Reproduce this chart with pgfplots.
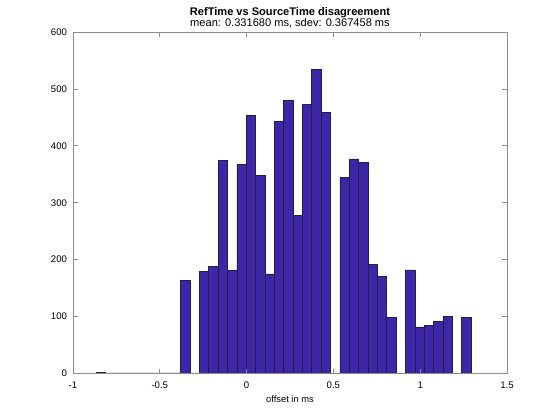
\documentclass[border=0pt]{standalone}
\usepackage{fontspec}
\setmainfont{Liberation Sans}
\usepackage{pgfplots}
\pgfplotsset{compat=1.18}
\usepackage{pgfplotstable}

\definecolor{barfill}{RGB}{62,38,168}
\definecolor{baredge}{RGB}{38,28,70}
\definecolor{axgray}{RGB}{140,140,140}

% left bin edge, count (last row closes the interval)
\pgfplotstableread{
edge cnt
-0.8660 2
-0.8120 1
-0.7581 1
-0.7041 1
-0.6501 1
-0.5962 1
-0.5422 1
-0.4882 1
-0.4342 1
-0.3803 163
-0.3263 0
-0.2723 180
-0.2184 188
-0.1644 375
-0.1104 181
-0.0565 367
-0.0025 453
0.0515 348
0.1055 175
0.1594 443
0.2134 480
0.2674 278
0.3213 473
0.3753 534
0.4293 459
0.4833 0
0.5372 344
0.5912 377
0.6452 371
0.6991 192
0.7531 170
0.8071 99
0.8610 0
0.9150 182
0.9690 82
1.0230 85
1.0769 92
1.1309 100
1.1849 0
1.2388 99
1.2928 99
}\histdata

\begin{document}
\begin{tikzpicture}
\begin{axis}[
  at={(54.75pt,34.9pt)}, anchor=south west,
  scale only axis, width=325.5pt, height=256.1pt,
  xmin=-1, xmax=1.5, ymin=0, ymax=600,
  xtick={-1,-0.5,0,0.5,1,1.5},
  ytick={0,100,...,600},
  tick align=inside,
  major tick length=3.5pt,
  axis line style={axgray, line width=0.5pt},
  tick style={axgray, line width=0.5pt},
  axis on top,
  clip=false,
  ticklabel style={font=\fontsize{7.2}{8.5}\selectfont},
  /pgf/number format/assume math mode=true,
  xticklabel style={anchor=base, yshift=-11.6pt},
  yticklabel style={xshift=-1pt},
  xlabel={offset in ms},
  xlabel style={font=\fontsize{7}{8.5}\selectfont, at={(0.5,0)}, anchor=base, yshift=-22.1pt},
]
\addplot[ybar interval, fill=barfill, draw=baredge, line width=0.4pt] table[x=edge, y=cnt] {\histdata};
\node[font=\fontsize{8.3}{8.8}\selectfont\bfseries, anchor=base, yshift=12.75pt] at (rel axis cs:0.5,1) {RefTime vs SourceTime disagreement};
\node[font=\fontsize{8.3}{8.8}\selectfont, anchor=base, yshift=4pt] at (rel axis cs:0.5,1) {mean: 0.331680 ms, sdev: 0.367458 ms};
\end{axis}
\pgfresetboundingbox
\path[use as bounding box] (0pt,0pt) rectangle (420pt,315pt);
\end{tikzpicture}
\end{document}
